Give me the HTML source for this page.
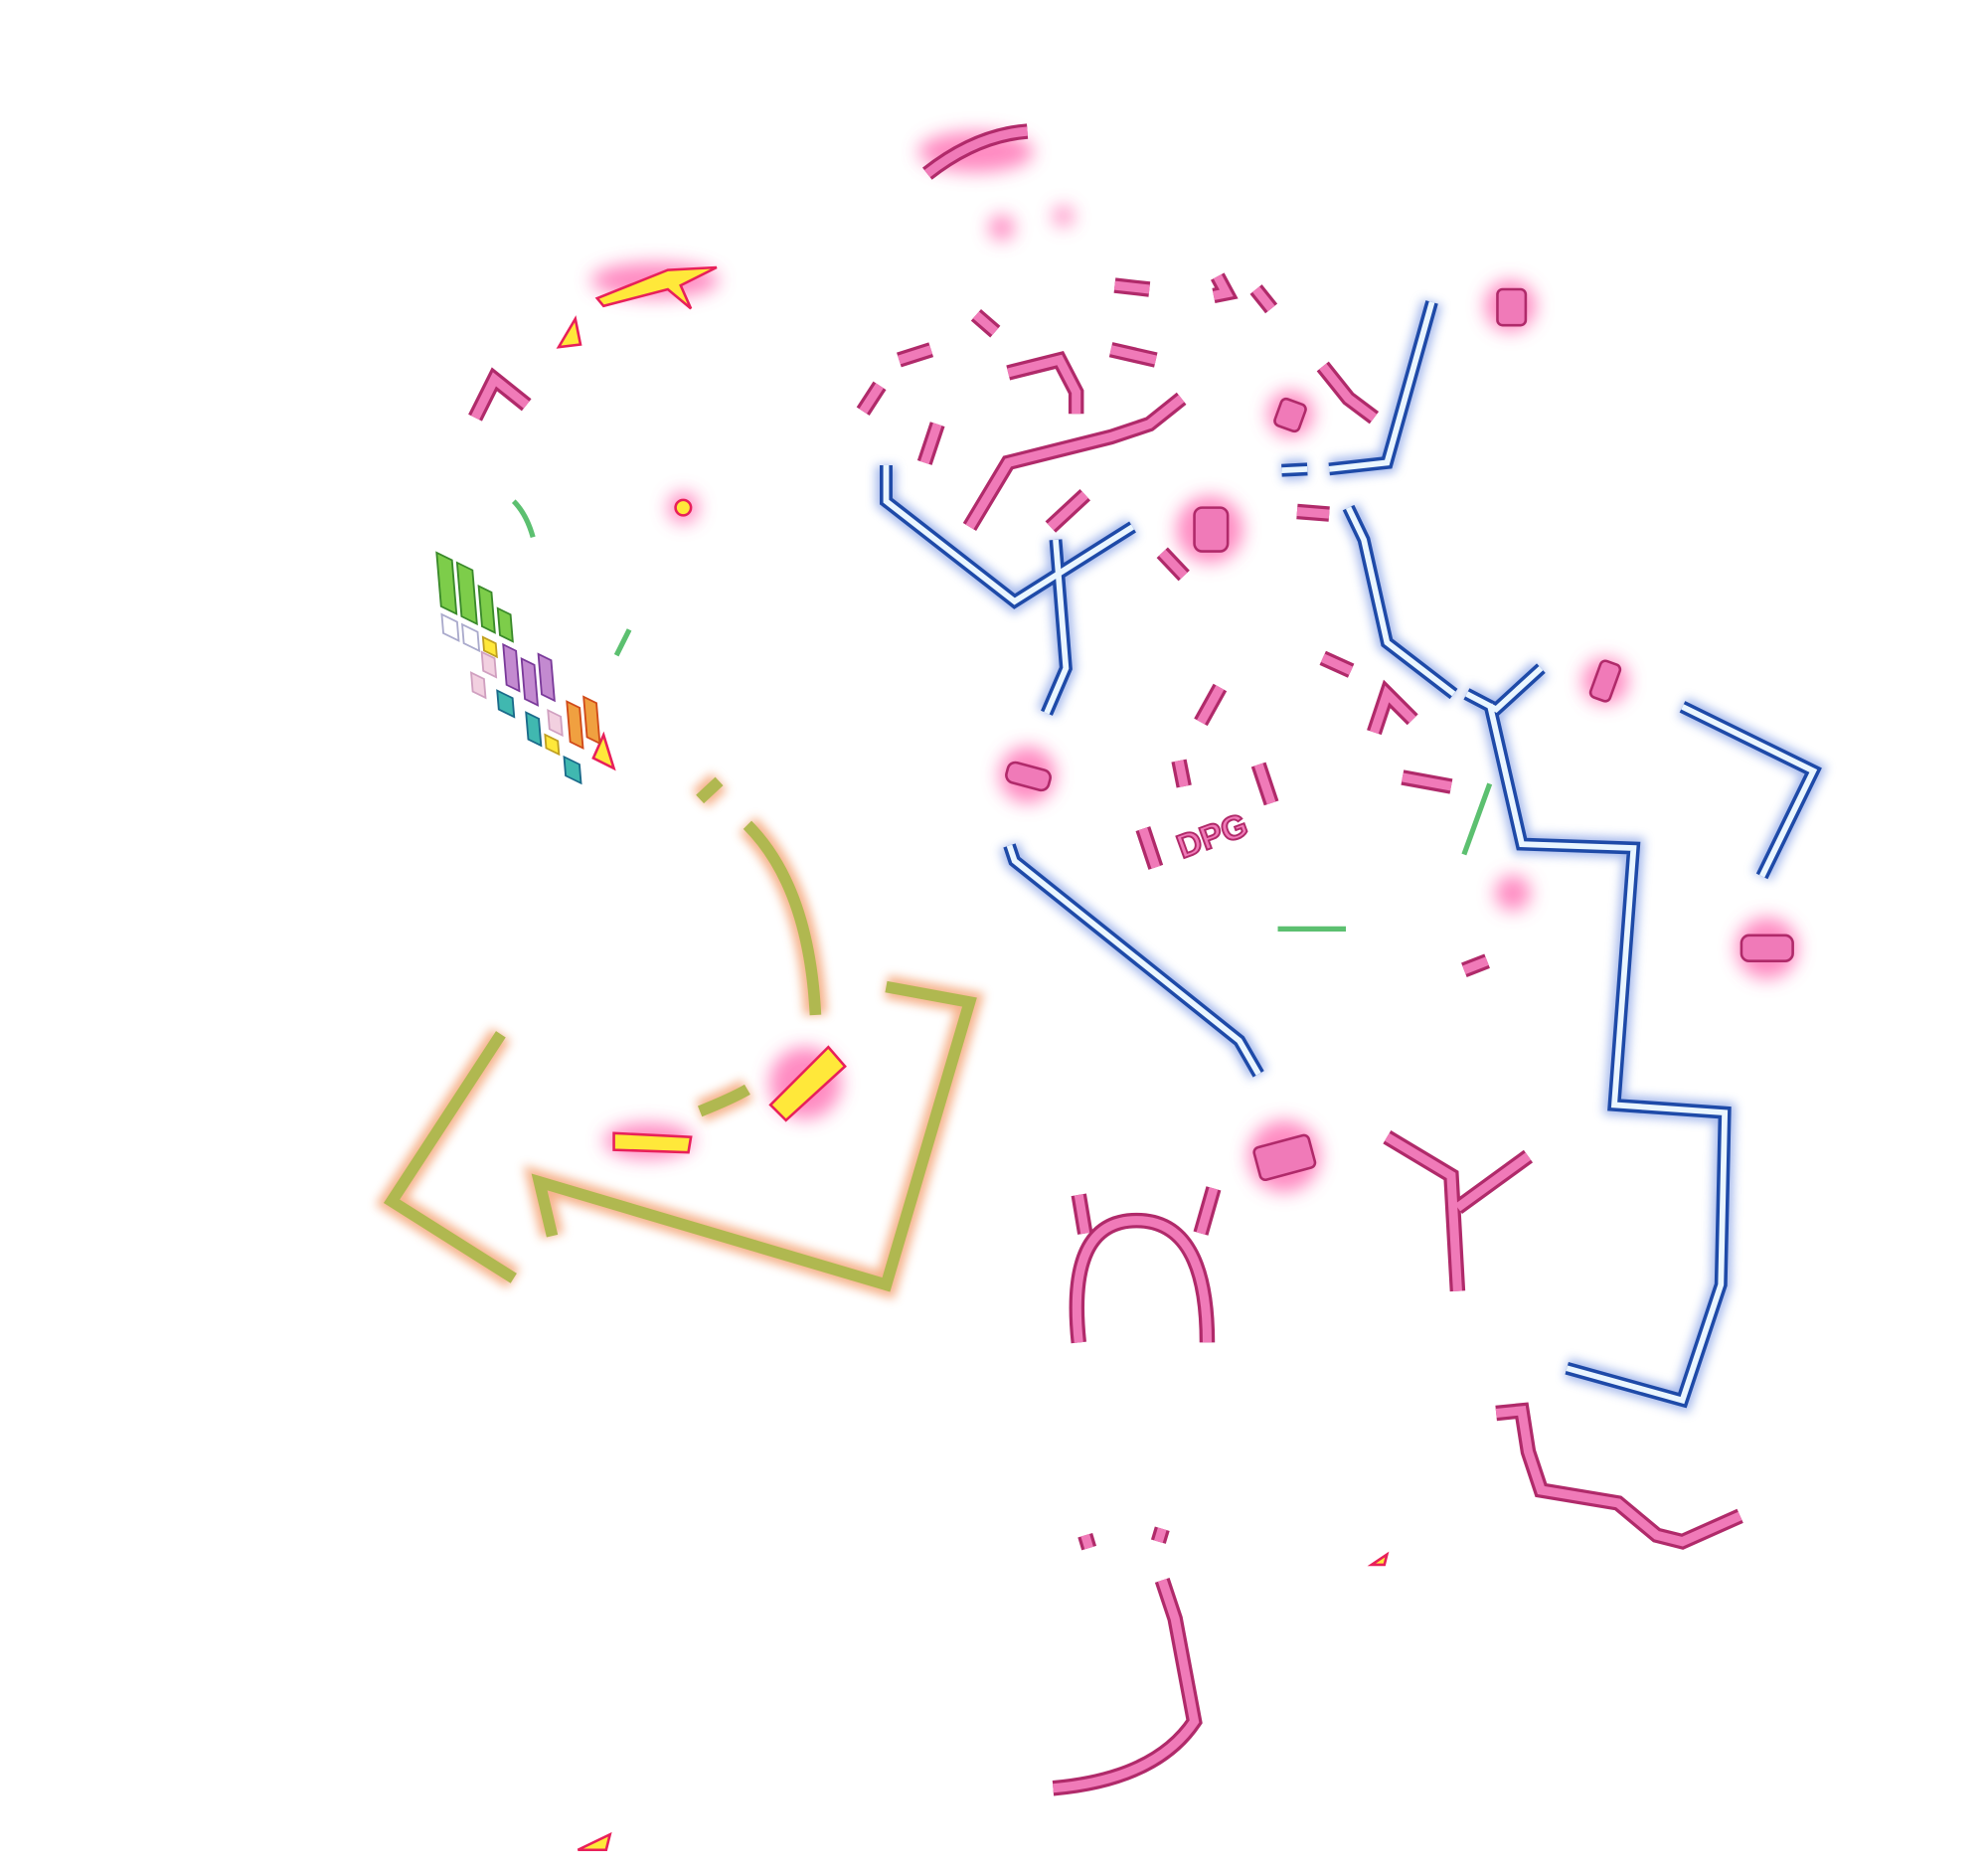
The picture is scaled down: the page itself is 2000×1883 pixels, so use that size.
<!DOCTYPE html>
<html><head><meta charset="utf-8"><style>
html,body{margin:0;padding:0;background:#fff;width:2000px;height:1883px;overflow:hidden}
svg{display:block}
</style></head><body>
<svg width="2000" height="1883" viewBox="0 0 1548 1457" xmlns="http://www.w3.org/2000/svg">
<defs>
<filter id="gb" x="-20%" y="-20%" width="140%" height="140%"><feGaussianBlur stdDeviation="4"/></filter>
<filter id="gp" x="-50%" y="-50%" width="200%" height="200%"><feGaussianBlur stdDeviation="7"/></filter>
</defs>
<g fill="none" stroke-linejoin="miter" stroke-linecap="butt">
<g id="blue">
<polyline points="1115,235 1080,360 1035,365"/>
<polyline points="1018,365 998,366"/>
<polyline points="690,362 690,390 790,468 882,410"/>
<polyline points="822,420 830,520 815,555"/>
<polyline points="1050,395 1062,420 1080,500 1132,540"/>
<polyline points="1142,540 1165,552 1200,520"/>
<polyline points="1160,548 1185,657 1272,660 1257,860 1343,866 1340,1000 1310,1090 1220,1065"/>
<polyline points="1310,550 1412,600 1372,682"/>
<polyline points="786,658 790,670 965,810 980,836"/>
</g>
</g>
<g fill="none" stroke="#6a8be0" stroke-width="16" filter="url(#gb)" opacity="0.6"><use href="#blue"/></g>
<g fill="none" stroke="#1e4aa8" stroke-width="10"><use href="#blue"/></g>
<g fill="none" stroke="#eaf6ff" stroke-width="4.5"><use href="#blue"/></g>

<g id="org" fill="none">
<polyline points="390,805 305,935 400,995"/>
<polyline points="690,768 755,780 690,1000 420,920 430,962"/>
<path d="M582,642 Q630,690 635,790"/>
<path d="M545,865 Q570,855 582,848"/>
<path d="M545,622 L560,608"/>
</g>
<g stroke="#f08040" stroke-width="18" filter="url(#gb)" opacity="0.6" fill="none"><use href="#org"/></g>
<g stroke="#b0b850" stroke-width="9" fill="none"><use href="#org"/></g>

<g fill="#ff5aa8" filter="url(#gp)" opacity="0.7">
<circle cx="1176" cy="238" r="20"/><circle cx="1005" cy="322" r="18"/><circle cx="942" cy="412" r="26"/>
<circle cx="1250" cy="530" r="18"/><circle cx="800" cy="603" r="22"/><circle cx="1178" cy="695" r="14"/>
<circle cx="1376" cy="738" r="24"/><circle cx="1000" cy="900" r="28"/><circle cx="532" cy="395" r="12"/>
<ellipse cx="510" cy="218" rx="50" ry="14"/><circle cx="627" cy="843" r="28"/><ellipse cx="505" cy="888" rx="35" ry="14"/>
<ellipse cx="760" cy="118" rx="45" ry="16"/><circle cx="780" cy="177" r="10"/><circle cx="828" cy="168" r="8"/>
</g>
<g fill="#f07ab8" stroke="#b02a6a" stroke-width="2">
<rect x="1166" y="225" width="22" height="28" rx="4"/><rect x="995" y="312" width="20" height="22" rx="4" transform="rotate(20 1005 322)"/>
<rect x="930" y="395" width="26" height="34" rx="6"/><rect x="1242" y="515" width="16" height="30" rx="4" transform="rotate(20 1250 530)"/>
<rect x="784" y="596" width="34" height="16" rx="6" transform="rotate(15 800 603)"/><rect x="1356" y="728" width="40" height="20" rx="6"/>
<rect x="978" y="888" width="44" height="26" rx="4" transform="rotate(-15 1000 900)"/>
</g>

<g id="pk" fill="none">
<path d="M840,1045 Q830,950 885,950 Q940,950 940,1045"/>
<path d="M840,930 L845,960 M945,925 L935,960"/>
<polyline points="1080,885 1130,915 1135,1005"/>
<polyline points="1135,940 1190,900"/>
<path d="M820,1392 Q900,1385 930,1340 L915,1260 L905,1230"/>
<polyline points="1165,1100 1185,1098 1190,1130 1200,1160 1260,1170 1290,1195 1310,1200 1355,1180"/>
<polyline points="760,245 775,258"/><polyline points="700,280 725,272"/><polyline points="672,320 685,300"/>
<polyline points="785,290 825,280 838,305 838,322"/>
<polyline points="755,410 785,360 865,340 895,330 910,318 920,310"/>
<polyline points="818,410 845,385"/><polyline points="905,430 922,448"/>
<polyline points="865,272 900,280"/><polyline points="868,222 895,225"/>
<polyline points="1030,285 1050,310 1070,325"/><polyline points="1010,398 1035,400"/>
<polyline points="1030,512 1052,522"/><polyline points="1070,570 1080,540 1100,560"/>
<polyline points="935,562 950,535"/><polyline points="1092,605 1130,612"/>
<polyline points="890,645 900,675"/><polyline points="980,595 990,625"/>
<polyline points="918,592 922,612"/><polyline points="1140,755 1158,748"/>
<polyline points="720,360 730,330"/><polyline points="845,1195 848,1205"/><polyline points="905,1190 902,1200"/>
<polyline points="370,325 385,295 410,315"/><path d="M722,135 Q760,105 800,102"/>
<polyline points="948,215 955,228 945,230"/><polyline points="978,225 990,240"/>
</g>
<g stroke="#b02a6a" stroke-width="12" fill="none"><use href="#pk"/></g>
<g stroke="#f07ab8" stroke-width="7" fill="none"><use href="#pk"/></g>
<text x="912" y="660" font-family="Liberation Sans, sans-serif" font-weight="bold" font-size="26" fill="#f07ab8" stroke="#b02a6a" stroke-width="1.5" transform="rotate(-20 940 640)">DPG</text>

<g fill="#ffe83a" stroke="#e8205a" stroke-width="2">
<polygon points="600,860 645,815 658,830 612,872"/>
<polygon points="478,882 538,885 536,897 478,895"/>
<polygon points="465,232 520,210 558,208 530,222 538,240 520,225 470,238"/>
<polygon points="435,270 448,248 452,268"/>
<circle cx="532" cy="395" r="6"/>
<polygon points="462,590 470,572 478,598"/>
<polygon points="450,1440 475,1428 472,1440"/><polygon points="1068,1218 1080,1210 1078,1218"/>
</g>

<g stroke="#5cc070" stroke-width="4" fill="none">
<line x1="995" y1="723" x2="1048" y2="723"/><line x1="1140" y1="665" x2="1160" y2="610"/>
<path d="M400,390 Q410,400 415,418"/><line x1="480" y1="510" x2="490" y2="490"/>
</g>

<g transform="translate(340,430) skewY(30) rotate(-5)" stroke-width="1.5">
<g fill="#7dcd4a" stroke="#3a8a2a"><rect x="0" y="0" width="12" height="40"/><rect x="16" y="0" width="12" height="40"/><rect x="32" y="10" width="10" height="30"/><rect x="46" y="20" width="10" height="20"/></g>
<g fill="#fff" stroke="#aac"><rect x="0" y="46" width="12" height="14"/><rect x="16" y="46" width="12" height="14"/></g>
<g fill="#c38ad0" stroke="#7a3a9a"><rect x="48" y="46" width="10" height="30"/><rect x="62" y="50" width="10" height="30"/><rect x="76" y="40" width="10" height="30"/></g>
<g fill="#40b8b0" stroke="#1a6a8a"><rect x="40" y="84" width="12" height="14"/><rect x="62" y="90" width="10" height="20"/><rect x="90" y="110" width="12" height="14"/></g>
<g fill="#f0a040" stroke="#d04a1a"><rect x="96" y="66" width="10" height="30"/><rect x="110" y="56" width="10" height="30"/></g>
<g fill="#f2d0e0" stroke="#d0a0c0"><rect x="80" y="80" width="10" height="14"/><rect x="30" y="60" width="10" height="14"/><rect x="20" y="80" width="10" height="14"/></g>
<g fill="#ffe83a" stroke="#c0a020"><rect x="32" y="48" width="10" height="10"/><rect x="76" y="100" width="10" height="10"/></g>
</g>
</svg>
</body></html>
